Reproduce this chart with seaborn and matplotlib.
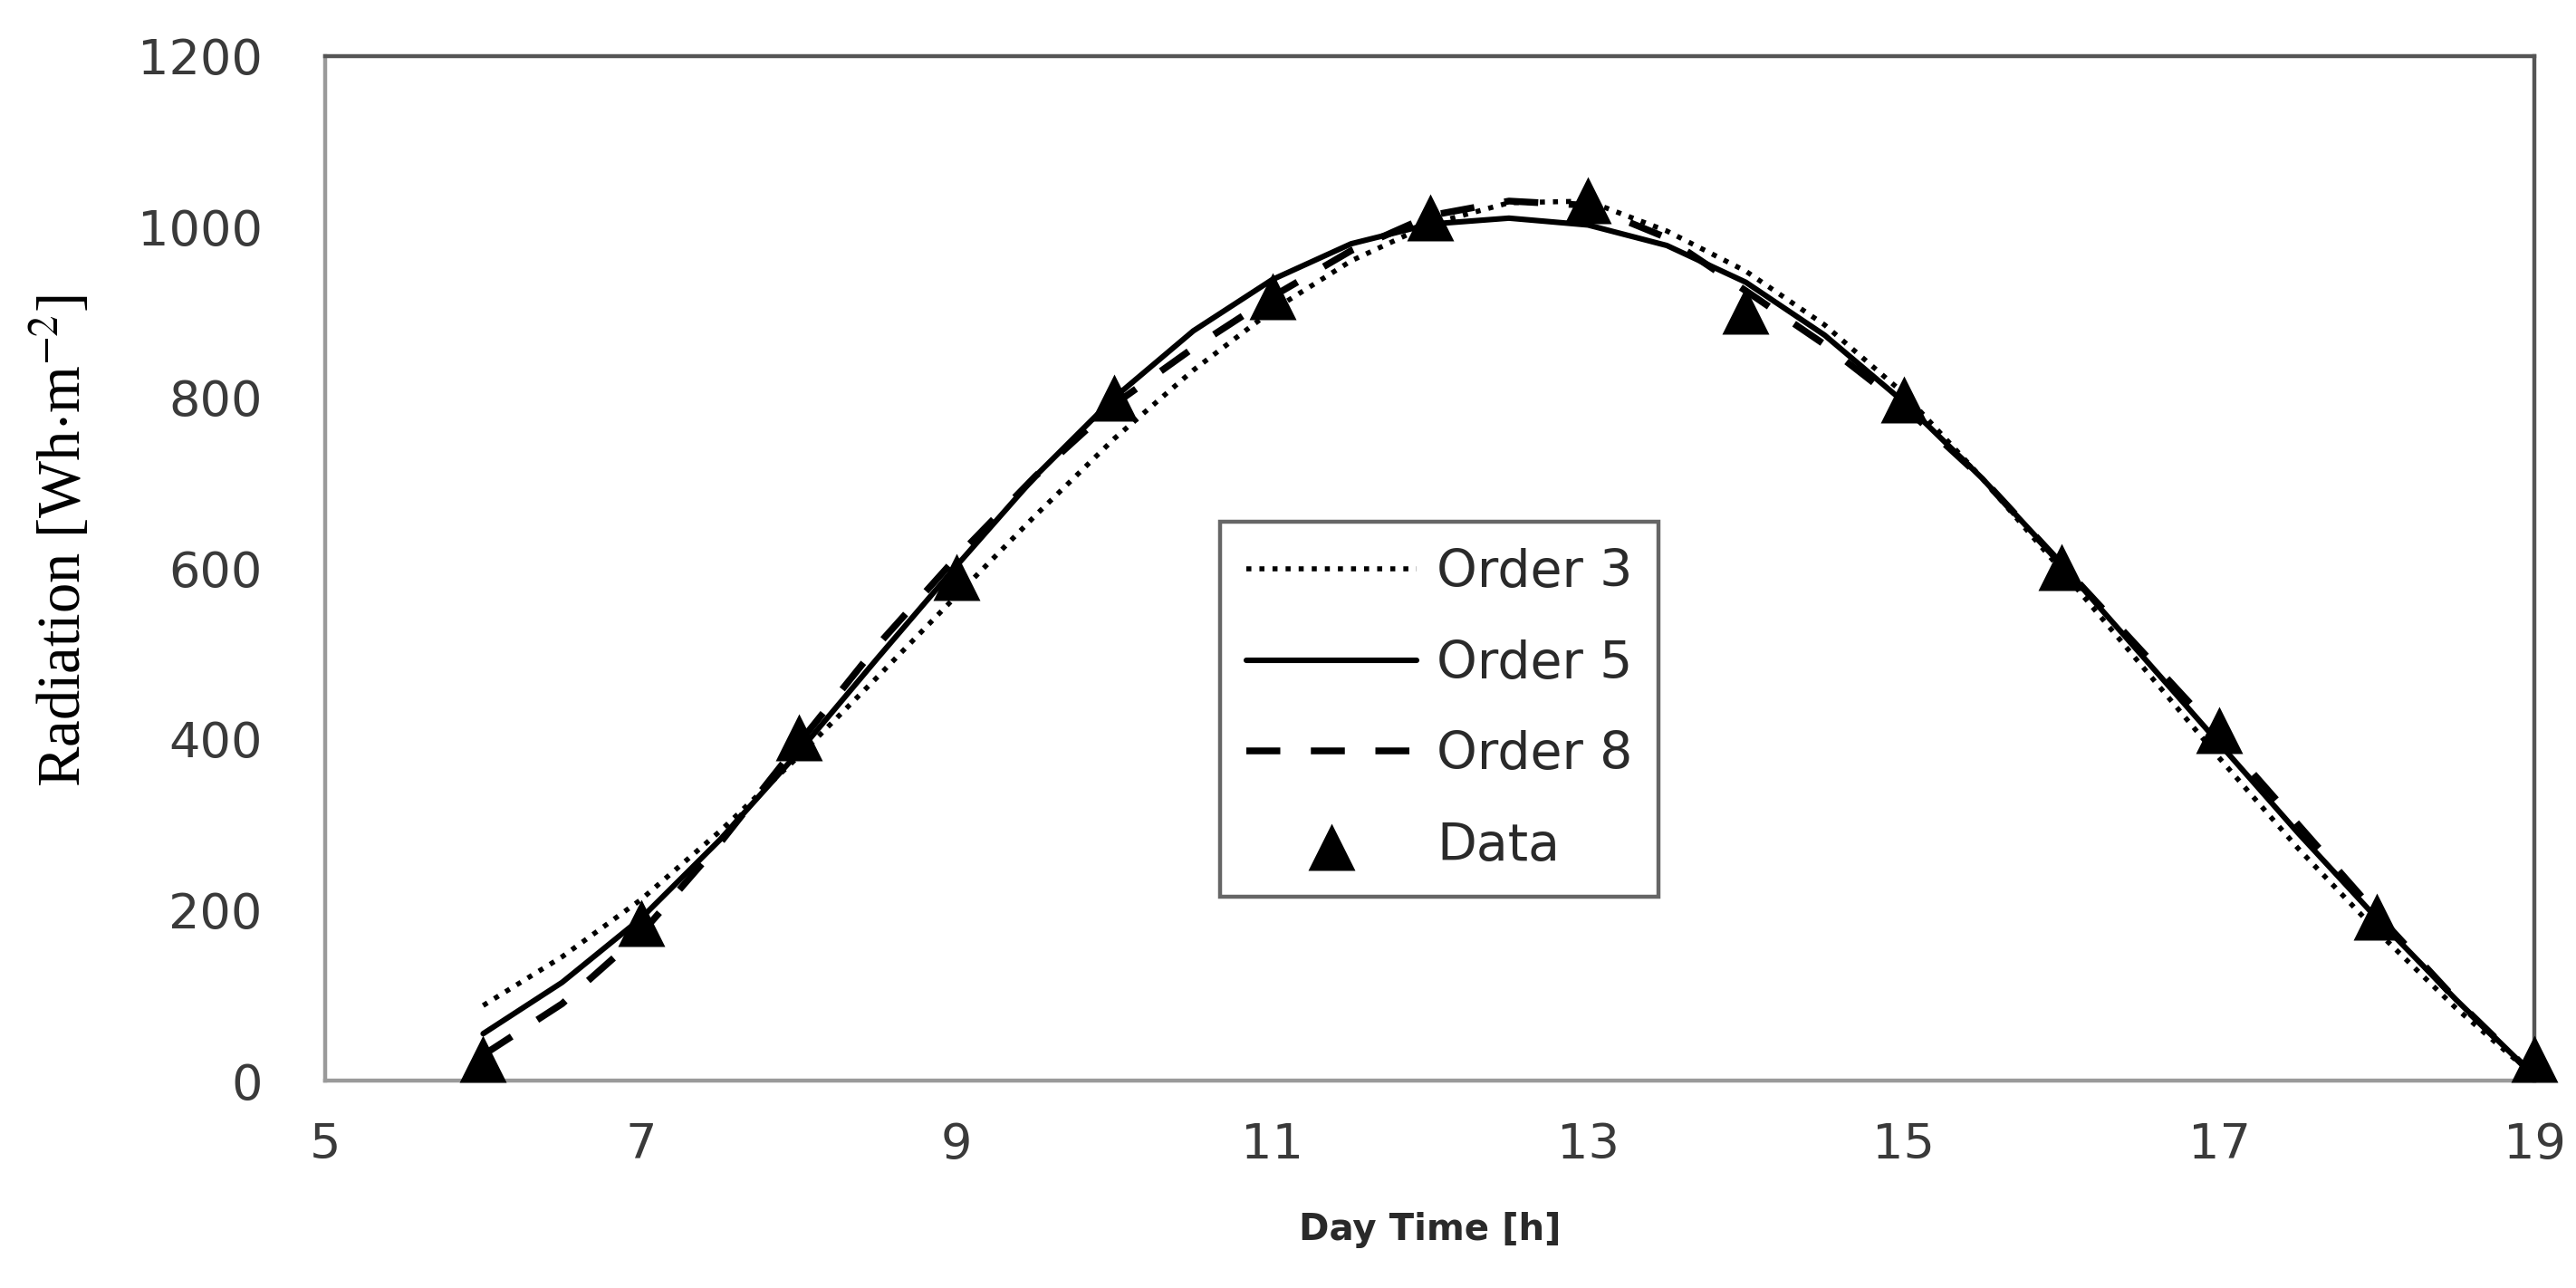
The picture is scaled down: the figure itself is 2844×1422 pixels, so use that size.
import numpy as np
import pandas as pd
import matplotlib
matplotlib.use('Agg')
import matplotlib.pyplot as plt
import seaborn as sns

# measured radiation points
hours = [6, 7, 8, 9, 10, 11, 12, 13, 14, 15, 16, 17, 18, 19]
radiation = [25, 185, 402, 590, 800, 919, 1011, 1031, 902, 798, 602, 411, 192, 25]

# fitted curves, every half hour
fit_hours = [6, 6.5, 7, 7.5, 8, 8.5, 9, 9.5, 10, 10.5, 11, 11.5, 12, 12.5,
             13, 13.5, 14, 14.5, 15, 15.5, 16, 16.5, 17, 17.5, 18, 18.5, 19]
order3 = [88, 145, 212, 292, 380, 473, 568, 662, 752, 832, 902, 960, 1003, 1028,
          1030, 995, 948, 885, 805, 705, 598, 488, 378, 272, 175, 85, 5]
order5 = [55, 115, 190, 282, 385, 495, 603, 708, 800, 878, 938, 980, 1003, 1010,
          1002, 978, 935, 873, 795, 705, 605, 500, 395, 290, 190, 95, 5]
order8 = [30, 90, 172, 278, 395, 510, 613, 708, 792, 858, 918, 972, 1013, 1030,
          1025, 987, 925, 862, 790, 705, 605, 505, 405, 300, 195, 95, 5]

sns.set_theme(style='white')
plt.rcParams['font.family'] = ['DejaVu Sans']
plt.rcParams['mathtext.fontset'] = 'stix'

fig = plt.figure(figsize=(14.22, 7.11), dpi=200)
ax = fig.add_axes([0.1263, 0.161, 0.8577, 0.7956])

sns.lineplot(x=fit_hours, y=order3, ax=ax, color='black', linewidth=2.0,
             linestyle=(0, (1, 1.6)), label='Order 3')
sns.lineplot(x=fit_hours, y=order5, ax=ax, color='black', linewidth=2.2,
             label='Order 5')
sns.lineplot(x=fit_hours, y=order8, ax=ax, color='black', linewidth=2.7,
             linestyle=(0, (5, 4.5)), label='Order 8')
sns.scatterplot(x=hours, y=radiation, ax=ax, marker='^', s=350, color='black',
                edgecolor='black', linewidth=0, label='Data', zorder=5, clip_on=False)

ax.set_xlim(5, 19)
ax.set_ylim(0, 1200)
ax.set_xticks(range(5, 20, 2))
ax.set_yticks(range(0, 1201, 200))
ax.tick_params(axis='both', length=0, labelsize=19.5, colors='#3a3a3a')
ax.tick_params(axis='y', pad=25)
ax.tick_params(axis='x', pad=16)

for side in ['left', 'bottom']:
    ax.spines[side].set_color('#9a9a9a')
    ax.spines[side].set_linewidth(1.6)
for side in ['top', 'right']:
    ax.spines[side].set_color('#555555')
    ax.spines[side].set_linewidth(1.6)

ax.set_xlabel('Day Time [h]', fontsize=14.5, fontweight='bold', color='#2a2a2a')
ax.xaxis.set_label_coords(0.5, -0.128)
ax.set_ylabel(r'Radiation [Wh$\cdot$m$^{-2}$]', fontsize=24,
              family=['Liberation Serif'], color='black')
ax.yaxis.set_label_coords(-0.105, 0.527)

leg = ax.legend(loc='upper left', bbox_to_anchor=(0.405, 0.545), borderaxespad=0,
                frameon=True, fancybox=False, fontsize=20.5, handlelength=3.3,
                labelspacing=0.8, borderpad=0.5, handletextpad=0.4)
leg.get_frame().set_edgecolor('#404040')
leg.get_frame().set_linewidth(1.6)
for t in leg.get_texts():
    t.set_color('#2a2a2a')

fig.savefig('out.png', dpi=200)
